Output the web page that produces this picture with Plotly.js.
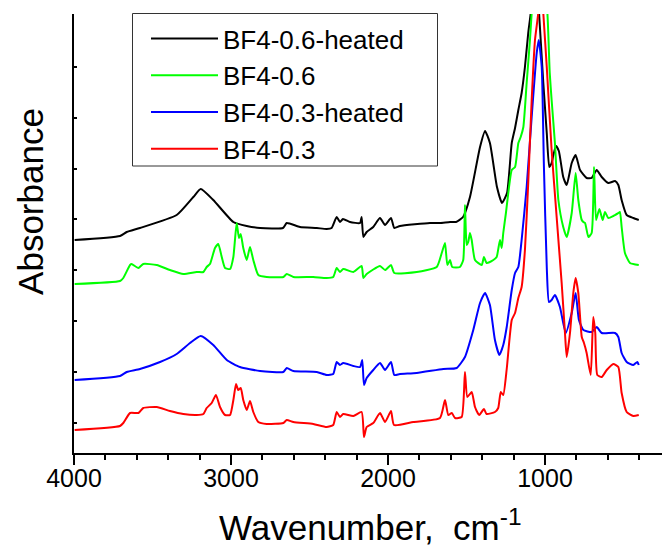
<!DOCTYPE html>
<html>
<head>
<meta charset="utf-8">
<script src="https://cdn.plot.ly/plotly-3.0.1.min.js"></script>
<style>html,body{margin:0;padding:0;background:#fff;}#chart{width:662px;height:551px;}</style>
</head>
<body>
<div id="chart"></div>
<script>
// Series names
const seriesNames = ["BF4-0.6-heated", "BF4-0.6", "BF4-0.3-heated", "BF4-0.3"];
const seriesColors = ["#000000", "#00ff00", "#0000ff", "#ff0000"];

// BF4-0.6-heated (black)
const blackWn = [3996,3707,3664,3580,3346,3240,3193,3113,2985,2900,2815,2669,2645,2561,2454,2391,2359,2327,2306,2287,2242,2178,2168,2157,2136,2094,2051,2019,1981,1960,1924,1733,1669,1605,1567,1522,1478,1414,1382,1351,1306,1274,1242,1212,1191,1170,1149,1128,1107,1091,1064,1038,1011,989,973,958,947,930,912,884,862,830,805,777,735,703,671,639,597,554,533,512,480,438,403];
const blackAbs = [2.13,2.17,2.21,2.25,2.38,2.56,2.64,2.53,2.31,2.27,2.25,2.25,2.30,2.26,2.25,2.24,2.25,2.36,2.31,2.34,2.31,2.30,2.36,2.16,2.21,2.26,2.35,2.28,2.35,2.25,2.27,2.30,2.30,2.31,2.31,2.36,2.56,3.06,3.22,3.10,2.66,2.50,2.60,3.10,3.25,3.43,3.60,3.86,4.20,4.40,4.95,4.40,3.70,3.20,2.86,2.90,2.98,3.07,3.02,2.76,2.68,2.90,2.98,2.83,2.75,2.75,2.83,2.76,2.70,2.72,2.68,2.53,2.38,2.35,2.33];

// BF4-0.6 (green)
const greenWn = [3996,3707,3686,3643,3633,3590,3559,3473,3389,3304,3219,3176,3155,3134,3102,3081,3059,3038,3006,2985,2964,2949,2938,2922,2900,2879,2858,2826,2773,2667,2645,2603,2476,2391,2349,2327,2306,2285,2221,2168,2157,2136,2051,2019,1981,1960,1817,1690,1658,1637,1622,1605,1591,1542,1521,1510,1499,1489,1478,1467,1446,1403,1389,1372,1329,1308,1287,1276,1266,1249,1234,1212,1191,1170,1155,1138,1117,1096,1085,1040,985,970,958,937,915,884,862,830,805,788,766,756,745,724,703,688,675,654,633,618,597,565,533,523,512,491,459,403];
const greenAbs = [1.69,1.72,1.75,1.88,1.89,1.85,1.89,1.88,1.83,1.79,1.81,1.81,1.86,1.89,2.05,2.09,1.96,1.85,1.84,1.96,2.30,2.15,2.19,2.05,1.93,2.06,1.93,1.78,1.76,1.76,1.79,1.76,1.76,1.75,1.76,1.85,1.81,1.84,1.81,1.87,1.75,1.79,1.87,1.83,1.88,1.80,1.81,1.86,2.00,2.10,1.88,1.93,1.86,1.86,1.93,2.48,2.08,2.11,2.20,2.13,1.93,1.88,1.96,1.90,1.93,1.96,2.13,2.05,2.20,2.40,2.60,2.83,2.86,3.10,3.16,3.26,3.70,4.13,4.40,5.30,4.40,3.80,3.53,3.10,2.53,2.26,2.16,2.40,2.80,2.53,2.33,2.31,2.30,2.16,2.20,2.86,2.33,2.44,2.33,2.41,2.35,2.37,2.40,2.41,2.26,2.00,1.90,1.88];

// BF4-0.3-heated (blue)
const blueWn = [3996,3707,3664,3580,3452,3346,3261,3193,3113,3027,2943,2815,2667,2645,2603,2454,2391,2349,2327,2306,2285,2221,2178,2164,2153,2136,2094,2051,2019,1981,1960,1924,1817,1648,1563,1510,1457,1414,1382,1351,1319,1291,1266,1244,1212,1191,1170,1149,1117,1085,1053,1040,1021,1007,989,975,958,937,905,868,830,805,784,756,703,671,639,554,533,512,480,438,412,403];
const blueAbs = [0.73,0.77,0.81,0.84,0.91,0.99,1.10,1.17,1.08,0.93,0.86,0.82,0.81,0.85,0.82,0.81,0.78,0.79,0.91,0.88,0.90,0.87,0.86,0.93,0.68,0.75,0.83,0.90,0.83,0.91,0.78,0.79,0.80,0.84,0.85,0.96,1.23,1.50,1.60,1.48,1.13,0.98,1.08,1.26,1.63,1.80,1.86,2.13,2.66,3.36,4.00,4.13,3.86,2.86,1.86,1.51,1.53,1.58,1.46,1.20,1.40,1.60,1.33,1.23,1.21,1.26,1.20,1.20,1.16,1.00,0.91,0.88,0.91,0.88];

// BF4-0.3 (red)
const redWn = [3996,3707,3686,3643,3590,3559,3473,3389,3304,3219,3176,3155,3123,3096,3070,3038,3006,2985,2968,2954,2938,2922,2900,2879,2858,2826,2773,2667,2645,2603,2476,2391,2349,2327,2306,2285,2221,2168,2153,2136,2094,2051,2019,1981,1962,1839,1669,1637,1616,1594,1573,1531,1510,1495,1467,1446,1419,1389,1372,1319,1298,1282,1266,1244,1212,1191,1170,1149,1128,1107,1085,1064,1043,1026,1011,989,958,926,894,873,862,841,820,805,788,766,752,735,709,693,680,667,639,607,565,533,512,480,438,403];
const redAbs = [0.23,0.27,0.30,0.40,0.40,0.45,0.46,0.42,0.39,0.38,0.39,0.45,0.50,0.58,0.46,0.38,0.38,0.53,0.69,0.63,0.65,0.53,0.43,0.52,0.41,0.31,0.29,0.30,0.33,0.31,0.29,0.26,0.28,0.41,0.36,0.39,0.37,0.41,0.16,0.26,0.30,0.40,0.31,0.42,0.28,0.31,0.35,0.53,0.38,0.40,0.35,0.36,0.81,0.56,0.61,0.46,0.38,0.44,0.39,0.41,0.45,0.61,0.58,0.84,1.33,1.40,1.55,1.66,2.03,2.70,3.53,4.13,4.40,4.80,4.40,3.86,3.03,2.36,1.70,1.20,0.96,1.20,1.60,1.75,1.60,1.16,1.10,1.00,0.78,1.36,1.20,0.78,0.76,0.83,0.89,0.86,0.60,0.41,0.37,0.38];

// Axis ticks
const xTickVals = [4000, 3000, 2000, 1000];
const xTickText = ["4000", "3000", "2000", "1000"];
const yTickVals = [0.305, 0.813, 1.321, 1.829, 2.337, 2.845, 3.353, 3.861];

const xs = [blackWn, greenWn, blueWn, redWn];
const ys = [blackAbs, greenAbs, blueAbs, redAbs];

const FONT = "'Liberation Sans', Arial, Helvetica, sans-serif";

const traces = seriesNames.map((name, i) => ({
  type: "scatter",
  mode: "lines",
  name: name,
  x: xs[i],
  y: ys[i],
  line: {color: seriesColors[i], width: 2, shape: "spline", smoothing: 0.5}
}));

// plot area in pixels: left 74, top 14, width 588, height 439
const PX = (px) => (px - 74) / 588;
const PY = (py) => (453 - py) / 439;

const layout = {
  width: 662,
  height: 551,
  margin: {l: 74, r: 0, t: 14, b: 98},
  paper_bgcolor: "#ffffff",
  plot_bgcolor: "#ffffff",
  font: {family: FONT, color: "#000"},
  showlegend: true,
  legend: {
    x: PX(146), y: PY(15), xanchor: "left", yanchor: "top",
    bgcolor: "rgba(0,0,0,0)", borderwidth: 0,
    font: {family: FONT, size: 26, color: "#000"},
    itemwidth: 67
  },
  shapes: [
    {type: "rect", xref: "paper", yref: "paper", layer: "above",
     x0: PX(132.5), x1: PX(437.5), y0: PY(166), y1: PY(13.5),
     line: {color: "#333333", width: 1}, fillcolor: "#ffffff"}
  ],
  xaxis: {
    range: [4000, 255],
    tickmode: "array",
    tickvals: xTickVals,
    ticktext: xTickText,
    ticks: "outside", ticklen: 10, tickwidth: 2, tickcolor: "#000",
    ticklabelstandoff: -8,
    minor: {dtick: 200, tick0: 0, ticks: "outside", ticklen: 5, tickwidth: 2, tickcolor: "#000", showgrid: false},
    showline: true, linecolor: "#000", linewidth: 2,
    showgrid: false, zeroline: false,
    tickfont: {family: FONT, size: 25, color: "#000"}
  },
  yaxis: {
    range: [0, 4.39],
    tickmode: "array",
    tickvals: yTickVals,
    showticklabels: false,
    ticks: "inside", ticklen: 3, tickwidth: 2, tickcolor: "#000",
    showline: true, linecolor: "#000", linewidth: 2,
    showgrid: false, zeroline: false
  },
  annotations: [
    {text: "Absorbance", xref: "paper", yref: "paper", x: -0.0731, y: 0.572,
     xanchor: "center", yanchor: "middle", textangle: -90, showarrow: false,
     font: {family: FONT, size: 35, color: "#000"}},
    {text: "Wavenumber,\u00a0\u00a0cm<sup>-1</sup>", xref: "paper", yref: "paper", x: 0.505, y: -0.165,
     xanchor: "center", yanchor: "middle", showarrow: false,
     font: {family: FONT, size: 35, color: "#000"}}
  ]
};

Plotly.newPlot("chart", traces, layout, {displayModeBar: false, staticPlot: true});
</script>
</body>
</html>
